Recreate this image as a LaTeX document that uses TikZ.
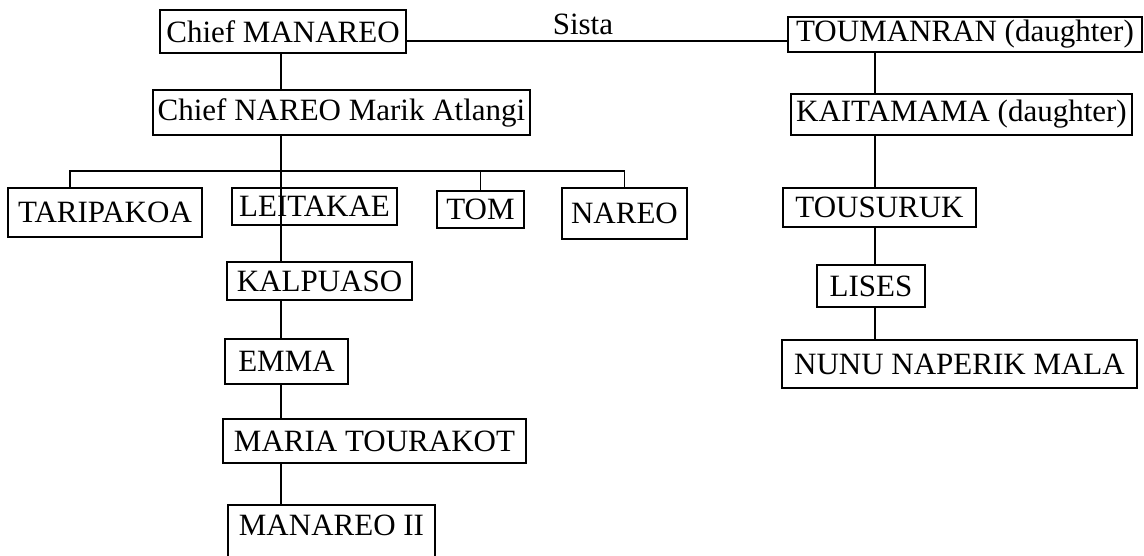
\documentclass[tikz,border=0pt]{standalone}
\usepackage{fontspec}
\setmainfont{Liberation Serif}
\newcommand\kinfont{\fontsize{31pt}{37pt}\selectfont}
\tikzset{person/.style={draw,rectangle,inner sep=2pt,line width=1.2pt,font=\kinfont},
         kin/.style={draw,line width=1.3pt},
         sista/.style={font=\kinfont,inner sep=0pt,above=6pt},
         x=1pt,y=-1pt}

\begin{document}
\begin{tikzpicture}
\useasboundingbox (0,0) rectangle (1144,555);
\node[person,minimum width=246pt,minimum height=43pt] (manareo) at (283,31.5) {Chief MANAREO};
\node[person,minimum width=377pt,minimum height=45pt] (nareo) at (341.5,112.5) {Chief NAREO Marik Atlangi};
\node[person,minimum width=194pt,minimum height=49pt] (taripakoa) at (105,212.5) {TARIPAKOA};
\node[person,minimum width=165pt,minimum height=37pt] (leitakae) at (314.5,206.5) {LEITAKAE};
\node[person,minimum width=87pt,minimum height=37pt] (tom) at (480.5,209.5) {TOM};
\node[person,minimum width=125pt,minimum height=51pt] (nareojr) at (624.5,213.5) {NAREO};
\node[person,minimum width=185pt,minimum height=38pt] (kalpuaso) at (319.5,281) {KALPUASO};
\node[person,minimum width=123pt,minimum height=45pt] (emma) at (286.5,361.5) {EMMA};
\node[person,minimum width=303pt,minimum height=44pt] (maria) at (374.5,441) {MARIA TOURAKOT};
\node[person,minimum width=207pt,minimum height=56pt,text depth=16pt] (manareoii) at (331.5,533) {MANAREO II};
\node[person,minimum width=354pt,minimum height=35pt] (toumanran) at (965,34.5) {TOUMANRAN (daughter)};
\node[person,minimum width=341pt,minimum height=41pt] (kaitamama) at (961.5,114.5) {KAITAMAMA (daughter)};
\node[person,minimum width=193pt,minimum height=39pt] (tousuruk) at (879.5,207.5) {TOUSURUK};
\node[person,minimum width=108pt,minimum height=42pt] (lises) at (871,286) {LISES};
\node[person,minimum width=355pt,minimum height=48pt] (nunu) at (959.5,364) {NUNU NAPERIK MALA};

\coordinate (spine) at (281,0);
\coordinate (rspine) at (875,0);
\coordinate (tie) at (0,41);
\coordinate (bar) at (70,171);

\draw[kin] (manareo.east |- tie) -- node[sista,pos=0.463] {Sista} (toumanran.west |- tie);
\draw[kin] (manareo.south -| spine) -- (nareo.north -| spine);
\draw[kin] (nareo.south -| spine) -- (spine |- bar);
\draw[kin] (taripakoa.north -| bar) -- (bar) -- (bar -| nareojr.north) -- (nareojr.north);
\draw[kin] (tom.north) -- (tom.north |- bar);
\draw[kin] (spine |- bar) -- (kalpuaso.north -| spine);
\foreach \a/\b in {kalpuaso/emma,emma/maria,maria/manareoii}
  \draw[kin] (\a.south -| spine) -- (\b.north -| spine);
\foreach \a/\b in {toumanran/kaitamama,kaitamama/tousuruk,tousuruk/lises,lises/nunu}
  \draw[kin] (\a.south -| rspine) -- (\b.north -| rspine);
\end{tikzpicture}
\end{document}
